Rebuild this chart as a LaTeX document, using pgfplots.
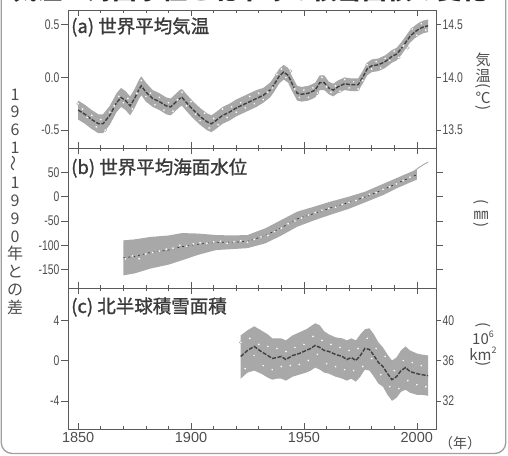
\documentclass[border=0pt]{standalone}
\usepackage{fontspec}
\setmainfont{Noto Sans CJK JP}
\newfontfamily\tfont[FakeBold=1.2]{Noto Sans CJK JP}
\newfontfamily\xnum{Liberation Sans}
\newfontfamily\ynum[FakeStretch=0.74]{Liberation Sans}
\usepackage{pgfplots}
\pgfplotsset{compat=1.18}
\usepackage{pgfplotstable}

\definecolor{axc}{HTML}{5A5A5A}
\definecolor{txt}{HTML}{4D4D4D}
\definecolor{ttl}{HTML}{3A3A3A}
\definecolor{band}{HTML}{A8A8A8}
\definecolor{curve}{HTML}{404040}

% (a) global mean temperature: smoothed curve
\pgfplotstableread{
year v
1850 -0.31
1853 -0.35
1856 -0.40
1859 -0.44
1861 -0.44
1864 -0.36
1867 -0.24
1869 -0.19
1871 -0.22
1873 -0.27
1875 -0.20
1877 -0.11
1878 -0.08
1880 -0.14
1883 -0.20
1886 -0.23
1889 -0.27
1891 -0.28
1893 -0.24
1895 -0.20
1896 -0.19
1898 -0.24
1901 -0.31
1904 -0.37
1907 -0.42
1909 -0.44
1911 -0.41
1914 -0.36
1917 -0.33
1920 -0.29
1923 -0.26
1926 -0.23
1929 -0.20
1932 -0.17
1935 -0.12
1937 -0.06
1939 0.01
1941 0.05
1943 0.02
1945 -0.07
1947 -0.15
1949 -0.16
1952 -0.15
1955 -0.12
1957 -0.05
1959 -0.05
1961 -0.10
1963 -0.12
1965 -0.09
1968 -0.06
1971 -0.07
1974 -0.07
1976 0.00
1978 0.08
1980 0.11
1983 0.12
1986 0.15
1989 0.20
1991 0.22
1993 0.27
1995 0.33
1997 0.39
1999 0.43
2001 0.46
2003 0.48
2005 0.49
}\tabA

% (a) uncertainty band outline: upper edge forward, lower edge back
\pgfplotstableread{
year v
1850 -0.22
1853 -0.26
1856 -0.31
1859 -0.35
1861 -0.35
1864 -0.27
1867 -0.15
1869 -0.10
1871 -0.13
1873 -0.18
1875 -0.11
1877 -0.02
1878 0.01
1880 -0.05
1883 -0.12
1886 -0.15
1889 -0.19
1891 -0.20
1893 -0.16
1895 -0.12
1896 -0.11
1898 -0.16
1901 -0.23
1904 -0.29
1907 -0.34
1909 -0.36
1911 -0.33
1914 -0.28
1917 -0.25
1920 -0.21
1923 -0.18
1926 -0.15
1929 -0.12
1932 -0.10
1935 -0.05
1937 0.01
1939 0.08
1941 0.12
1943 0.09
1945 0.00
1947 -0.08
1949 -0.09
1952 -0.08
1955 -0.05
1957 0.02
1959 0.02
1961 -0.04
1963 -0.06
1965 -0.03
1968 0.00
1971 -0.01
1974 -0.01
1976 0.06
1978 0.14
1980 0.17
1983 0.18
1986 0.21
1989 0.26
1991 0.28
1993 0.33
1995 0.39
1997 0.45
1999 0.49
2001 0.52
2003 0.54
2005 0.55
2005 0.43
2003 0.42
2001 0.40
1999 0.37
1997 0.33
1995 0.27
1993 0.21
1991 0.16
1989 0.14
1986 0.09
1983 0.06
1980 0.05
1978 0.02
1976 -0.06
1974 -0.13
1971 -0.13
1968 -0.12
1965 -0.15
1963 -0.18
1961 -0.16
1959 -0.12
1957 -0.12
1955 -0.19
1952 -0.22
1949 -0.23
1947 -0.22
1945 -0.14
1943 -0.05
1941 -0.02
1939 -0.06
1937 -0.13
1935 -0.19
1932 -0.24
1929 -0.28
1926 -0.31
1923 -0.34
1920 -0.37
1917 -0.41
1914 -0.44
1911 -0.49
1909 -0.52
1907 -0.50
1904 -0.45
1901 -0.39
1898 -0.32
1896 -0.27
1895 -0.28
1893 -0.32
1891 -0.36
1889 -0.35
1886 -0.31
1883 -0.28
1880 -0.23
1878 -0.17
1877 -0.20
1875 -0.29
1873 -0.36
1871 -0.31
1869 -0.28
1867 -0.33
1864 -0.45
1861 -0.53
1859 -0.53
1856 -0.49
1853 -0.44
1850 -0.40
}\polyA

% (a) annual values
\pgfplotstableread{
year v
1850 -0.25
1852 -0.30
1854 -0.38
1856 -0.36
1858 -0.47
1860 -0.40
1862 -0.50
1864 -0.33
1866 -0.27
1868 -0.18
1870 -0.24
1872 -0.20
1874 -0.30
1876 -0.15
1878 -0.03
1880 -0.18
1882 -0.15
1884 -0.26
1886 -0.19
1888 -0.31
1890 -0.24
1892 -0.32
1894 -0.21
1896 -0.14
1898 -0.27
1900 -0.23
1902 -0.35
1904 -0.41
1906 -0.34
1908 -0.48
1910 -0.39
1912 -0.45
1914 -0.30
1916 -0.38
1918 -0.28
1920 -0.33
1922 -0.24
1924 -0.29
1926 -0.18
1928 -0.25
1930 -0.15
1932 -0.21
1934 -0.14
1936 -0.10
1938 0.03
1940 0.08
1942 0.00
1944 0.06
1946 -0.11
1948 -0.19
1950 -0.12
1952 -0.19
1954 -0.10
1956 -0.15
1958 0.00
1960 -0.09
1962 -0.14
1964 -0.08
1966 -0.13
1968 -0.02
1970 -0.10
1972 -0.04
1974 -0.11
1976 -0.03
1978 0.12
1980 0.08
1982 0.15
1984 0.09
1986 0.18
1988 0.16
1990 0.25
1992 0.19
1994 0.30
1996 0.28
1998 0.46
2000 0.40
2002 0.51
2004 0.45
}\dotA

% (b) sea level band outline (tide gauges)
\pgfplotstableread{
year v
1870 -90
1875 -88
1882 -83
1890 -80
1896 -75
1903 -76
1911 -79
1918 -80
1925 -79
1933 -65
1940 -48
1947 -31
1955 -20
1962 -10
1970 0
1977 10
1985 26
1992 40
1998 52
2000 56
2000 35
1998 31
1992 19
1985 3
1977 -12
1970 -25
1962 -37
1955 -48
1947 -62
1940 -80
1933 -96
1925 -106
1918 -108
1911 -110
1903 -120
1896 -131
1890 -140
1882 -148
1875 -158
1870 -162
}\polyB

\pgfplotstableread{
year v
1870 -126
1875 -123
1882 -115
1890 -110
1896 -103
1903 -98
1911 -94
1918 -94
1925 -92
1933 -80
1940 -64
1947 -46
1955 -34
1962 -23
1970 -12
1977 -1
1985 14
1992 29
1998 41
2000 45
}\midB

\pgfplotstableread{
year v
1871 -128
1874 -122
1877 -128
1880 -118
1883 -115
1886 -112
1889 -108
1892 -106
1895 -100
1898 -102
1901 -97
1904 -95
1907 -96
1910 -93
1913 -92
1916 -96
1919 -93
1922 -91
1925 -94
1928 -88
1931 -83
1934 -80
1937 -72
1940 -65
1943 -56
1946 -50
1949 -44
1952 -38
1955 -33
1958 -28
1961 -24
1964 -22
1967 -16
1970 -12
1973 -8
1976 -2
1979 5
1982 8
1985 15
1988 20
1991 26
1994 33
1997 40
}\dotB

% (b) satellite altimetry
\pgfplotstableread{
year v
1993 33
1995 40
1997 45
1999 53
2001 60
2003 66
2005 71
}\satB

% (c) northern hemisphere snow cover: smoothed curve
\pgfplotstableread{
year v
1922 0.4
1925 1.0
1928 1.4
1931 0.9
1934 0.5
1936 0.2
1938 0.3
1940 0.4
1942 0.1
1945 0.5
1948 0.7
1951 1.0
1953 1.2
1955 1.5
1957 1.3
1959 1.0
1961 0.9
1964 0.6
1967 0.4
1969 0.1
1971 0.3
1973 0.0
1975 0.5
1977 1.2
1979 1.1
1981 0.5
1983 -0.2
1985 -0.6
1987 -1.3
1989 -1.9
1991 -1.6
1993 -1.0
1995 -0.7
1997 -1.1
2000 -1.3
2002 -1.4
2005 -1.5
}\tabC

\pgfplotstableread{
year v
1922 2.5
1925 3.0
1928 3.4
1931 3.0
1934 2.6
1936 2.2
1938 2.2
1940 2.2
1942 2.0
1945 2.5
1948 2.8
1951 3.1
1953 3.4
1955 3.7
1957 3.5
1959 2.9
1961 2.6
1964 2.3
1967 2.2
1969 2.0
1971 2.2
1973 2.0
1975 2.6
1977 3.1
1979 3.2
1981 2.6
1983 1.8
1985 1.3
1987 0.6
1989 0.0
1991 0.3
1993 1.0
1995 1.4
1997 1.0
2000 0.7
2002 0.6
2005 0.5
2005 -3.5
2002 -3.4
2000 -3.4
1997 -3.2
1995 -2.9
1993 -3.1
1991 -3.7
1989 -4.0
1987 -3.4
1985 -2.6
1983 -2.3
1981 -1.6
1979 -1.0
1977 -0.9
1975 -1.6
1973 -2.1
1971 -1.8
1969 -2.0
1967 -1.8
1964 -1.6
1961 -1.3
1959 -1.2
1957 -0.9
1955 -0.7
1953 -1.0
1951 -1.2
1948 -1.4
1945 -1.6
1942 -2.0
1940 -1.8
1938 -1.8
1936 -1.9
1934 -1.7
1931 -1.3
1928 -1.0
1925 -1.2
1922 -1.8
}\polyC

\pgfplotstableread{
year v
1922 1.8
1924 -0.8
1926 2.2
1928 0.5
1930 1.6
1932 -0.5
1934 1.4
1936 -0.9
1938 1.2
1940 -0.6
1942 0.9
1944 -0.5
1946 1.3
1948 -0.4
1950 1.6
1952 0.0
1954 2.4
1956 0.6
1958 2.0
1960 -0.3
1962 1.6
1964 -0.6
1966 1.3
1968 -0.9
1970 1.0
1972 -1.0
1974 1.2
1976 -0.6
1978 2.2
1980 0.2
1982 1.2
1984 -1.4
1986 0.4
1988 -2.6
1990 -1.0
1992 -2.8
1994 0.0
1996 -2.0
1998 -0.2
2000 -2.4
2002 -0.5
2004 -2.6
}\dotC

\pgfplotsset{
  panel/.style={
    scale only axis, width=368pt,
    xmin=1845.5, xmax=2008.5,
    axis on top,
    axis line style={axc, line width=0.8pt},
    every tick/.style={axc, line width=0.6pt},
    tick align=inside,
    major tick length=6pt, minor tick length=3pt,
    xtick={1850,1900,1950,2000},
    minor xtick={1860,1870,1880,1890,1910,1920,1930,1940,1960,1970,1980,1990},
    xtick pos=both, xticklabels={},
    ytick=\empty,
    x tick label style={font=\xnum\fontsize{14.5}{16}\selectfont, text=txt},
    y tick label style={font=\ynum\fontsize{14}{16}\selectfont, text=txt, inner sep=1.5pt},
    extra y tick style={tick align=outside, major tick length=7pt},
  },
  rightax/.style={
    scale only axis, width=368pt,
    xmin=1845.5, xmax=2008.5,
    axis x line=none, axis y line*=right,
    axis line style={axc, line width=0.8pt},
    every tick/.style={axc, line width=0.6pt},
    tick align=inside,
    major tick length=6pt, minor tick length=3pt,
    ytick=\empty,
    y tick label style={font=\ynum\fontsize{14}{16}\selectfont, text=txt, inner sep=1.5pt},
    extra y tick style={tick align=outside, major tick length=5pt},
  },
  bandfill/.style={fill=band, draw=none},
  dotmark/.style={only marks, mark=*, mark size=1.5pt, mark options={fill=white, draw=gray!75, line width=0.4pt}},
}
\tikzset{ptitle/.style={anchor=west, font=\tfont\fontsize{18.5}{20}\selectfont, text=ttl, inner sep=0pt},
  unit/.style={font=\fontsize{15}{16}\selectfont, text=txt, inner sep=0pt}}
\newcommand{\arcup}{\rotatebox[origin=c]{-90}{(}}
\newcommand{\arcdn}{\rotatebox[origin=c]{-90}{)}}

\begin{document}
\begin{tikzpicture}[x=1pt,y=1pt]
\useasboundingbox (0,0) rectangle (508,455);
\draw[rounded corners=11pt, gray!75, line width=1.3pt] (1.2,1.5) rectangle (505.8,520);
\node[anchor=base, font=\fontsize{25}{28}\selectfont\bfseries, text=black!85, inner sep=0pt] at (250,455) {気温・海面水位と北半球の積雪面積の変化};

% ---------- panel (a)
\begin{axis}[panel, at={(68pt,307pt)}, anchor=south west, height=138pt,
  ymin=-0.67, ymax=0.64, ytick pos=left,
  minor ytick={-0.6,-0.4,-0.3,-0.2,-0.1,0.1,0.2,0.3,0.4,0.6},
  extra y ticks={-0.5,0,0.5}, extra y tick labels={-0.5,0.0,0.5}]
\addplot[bandfill] table[x=year,y=v]{\polyA};
\addplot[dotmark] table[x=year,y=v]{\dotA};
\addplot[curve, line width=1.4pt, dash pattern=on 4pt off 1.5pt] table[x=year,y=v]{\tabA};
\node[ptitle] at (rel axis cs:0,1) [xshift=3pt, yshift=-17pt] {(a) 世界平均気温};
\end{axis}
\begin{axis}[rightax, at={(68pt,307pt)}, anchor=south west, height=138pt,
  ymin=13.33, ymax=14.64,
  minor ytick={13.4,13.6,13.7,13.8,13.9,14.1,14.2,14.3,14.4,14.6},
  extra y ticks={13.5,14,14.5}, extra y tick labels={13.5,14.0,14.5}]
\addplot[draw=none, forget plot] table[x=year, y expr=\thisrow{v}+14]{\tabA};
\end{axis}

% ---------- panel (b)
\begin{axis}[panel, at={(68pt,167pt)}, anchor=south west, height=140pt,
  ymin=-188, ymax=100, ytick pos=both, yticklabel pos=left,
  minor ytick={-175,-125,-75,-25,25,75},
  extra y ticks={-150,-100,-50,0,50}, extra y tick labels={-150,-100,-50,0,50}]
\addplot[bandfill] table[x=year,y=v]{\polyB};
\addplot[dotmark] table[x=year,y=v]{\dotB};
\addplot[gray!40!black, line width=0.7pt, dash pattern=on 2pt off 3pt] table[x=year,y=v]{\midB};
\addplot[gray!65, line width=1.0pt] table[x=year,y=v]{\satB};
\node[ptitle] at (rel axis cs:0,1) [xshift=3pt, yshift=-20pt] {(b) 世界平均海面水位};
\end{axis}

% ---------- panel (c)
\begin{axis}[panel, at={(68pt,26pt)}, anchor=south west, height=141pt,
  ymin=-6.8, ymax=7.2, ytick pos=left,
  xticklabels={1850,1900,1950,2000},
  minor ytick={-6,-5,-3,-2,-1,1,2,3,5,6},
  extra y ticks={-4,0,4}, extra y tick labels={-4,0,4}]
\addplot[bandfill] table[x=year,y=v]{\polyC};
\addplot[dotmark] table[x=year,y=v]{\dotC};
\addplot[curve, line width=1.4pt, dash pattern=on 4pt off 1.5pt] table[x=year,y=v]{\tabC};
\node[ptitle] at (rel axis cs:0,1) [xshift=3pt, yshift=-19pt] {(c) 北半球積雪面積};
\end{axis}
\begin{axis}[rightax, at={(68pt,26pt)}, anchor=south west, height=141pt,
  ymin=29.2, ymax=43.2,
  minor ytick={30,31,33,34,35,37,38,39,41,42,43},
  extra y ticks={32,36,40}, extra y tick labels={32,36,40}]
\addplot[draw=none, forget plot] table[x=year, y expr=\thisrow{v}+36]{\tabC};
\end{axis}

% ---------- side labels
\node[font=\fontsize{16}{17.75}\selectfont, text=txt, align=center, inner sep=0pt] at (15,253.5)
  {1\\9\\6\\1\\\rotatebox{90}{～}\\1\\9\\9\\0\\年\\と\\の\\差};
% temperature unit
\node[unit] at (483,395) {気};
\node[unit] at (483,379.5) {温};
\node[unit] at (483,368) {\arcup};
\node[unit] at (483,357) {℃};
\node[unit] at (483,345.5) {\arcdn};
% sea level unit
\node[unit] at (481,251.5) {\arcup};
\node[unit] at (481,240) {㎜};
\node[unit] at (481,228.5) {\arcdn};
% snow cover unit
\node[unit] at (483,129) {\arcup};
\node[unit] at (483,117) {10\raisebox{0.45em}{\fontsize{9}{10}\selectfont 6}};
\node[unit] at (483,101) {km\raisebox{0.45em}{\fontsize{9}{10}\selectfont 2}};
\node[unit] at (483,90) {\arcdn};
\node[font=\fontsize{14}{15}\selectfont, text=txt, inner sep=0pt] at (460,12) {（年）};
\end{tikzpicture}
\end{document}
